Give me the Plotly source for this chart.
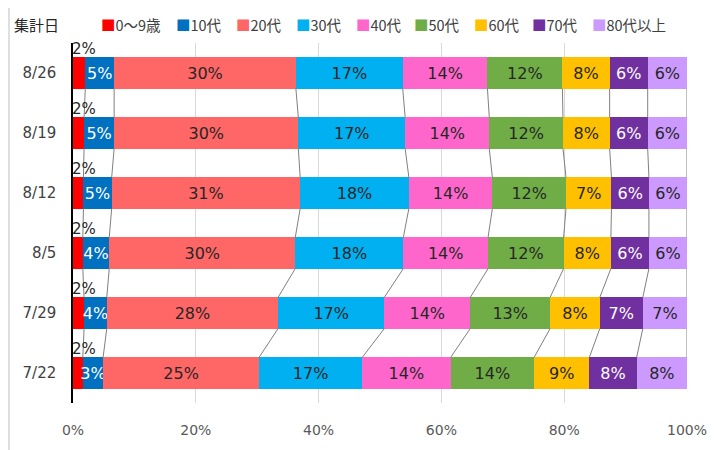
import plotly.graph_objects as go

# ---- data ----
dates = ["7/22", "7/29", "8/5", "8/12", "8/19", "8/26"]
groups = ["0～9歳", "10代", "20代", "30代", "40代", "50代", "60代", "70代", "80代以上"]
age_0_9 = [1.6, 1.8, 1.6, 1.7, 1.8, 2.0]
age_10s = [3.3, 3.7, 4.3, 4.6, 4.9, 4.7]
age_20s = [25.4, 27.9, 30.3, 30.7, 30.0, 29.6]
age_30s = [16.8, 17.3, 17.6, 17.7, 17.4, 17.4]
age_40s = [14.4, 14.0, 13.8, 13.6, 13.7, 13.8]
age_50s = [13.6, 13.0, 12.3, 12.0, 12.0, 12.2]
age_60s = [9.0, 8.1, 7.7, 7.4, 7.6, 7.7]
age_70s = [7.7, 7.0, 6.2, 6.1, 6.2, 6.2]
age_80p = [8.2, 7.2, 6.2, 6.2, 6.4, 6.4]
x_ticks = [0, 20, 40, 60, 80, 100]

series = [age_0_9, age_10s, age_20s, age_30s, age_40s, age_50s, age_60s, age_70s, age_80p]
colors = ["#FF0000", "#0070C0", "#FF6666", "#00B0F0", "#FF66CC",
          "#70AD47", "#FFC000", "#7030A0", "#CC99FF"]
text_colors = ["#262626", "white", "#262626", "#262626", "#262626",
               "#262626", "#262626", "white", "#262626"]

FONT = "DejaVu Sans, Noto Sans CJK JP"
BW = 0.52
ypos = list(range(len(dates)))

# page body has an 8px margin: plot area spans x 73..687, y 43..413 in the window
PL, PT = 73, 43
PW, PH = 614, 370


def px_x(x):
    return (x - PL) / PW


def px_y(y):
    return (PT + PH - y) / PH


fig = go.Figure()

# series lines (connectors between bars)
cum = [0.0] * len(dates)
lx, ly = [], []
for vals in series:
    cum = [c + v for c, v in zip(cum, vals)]
    for i in range(len(dates) - 1):
        lx += [cum[i + 1], cum[i], None]
        ly += [i + 1 - BW / 2, i + BW / 2, None]
fig.add_trace(go.Scatter(x=lx, y=ly, mode="lines",
                         line=dict(color="#808080", width=1),
                         hoverinfo="skip", showlegend=False))

for k, (name, vals) in enumerate(zip(groups, series)):
    txt = ["" if k == 0 else f"{round(v)}%" for v in vals]
    fig.add_trace(go.Bar(
        y=ypos, x=vals, name=name, orientation="h", width=BW,
        marker=dict(color=colors[k], line=dict(width=0)),
        text=txt, textposition="inside", insidetextanchor="middle",
        textangle=0, constraintext="none",
        textfont=dict(family=FONT, size=16, color=text_colors[k]),
        showlegend=False,
    ))

annotations = []
# labels for the smallest segment, placed above the bar
for i, v in enumerate(age_0_9):
    annotations.append(dict(x=0, y=i + BW / 2, xref="x", yref="y",
                            text=f"{round(v)}%", showarrow=False,
                            xanchor="left", yanchor="bottom", yshift=-3, xshift=-3,
                            font=dict(family=FONT, size=15, color="#262626")))

# legend drawn as text
legend_x = [99, 174, 234, 294, 354, 412, 472, 530, 590]
for g, c, lxp in zip(groups, colors, legend_x):
    annotations.append(dict(x=px_x(lxp), y=px_y(24), xref="paper", yref="paper",
                            text=f"<span style='color:{c}'>■</span>{g}",
                            showarrow=False, xanchor="left", yanchor="middle",
                            font=dict(family="Noto Sans CJK JP", size=14.5, color="#404040")))
annotations.append(dict(x=px_x(12), y=px_y(24), xref="paper", yref="paper",
                        text="集計日", showarrow=False, xanchor="left", yanchor="middle",
                        font=dict(family="Noto Sans CJK JP", size=15, color="#262626")))

fig.update_layout(
    barmode="stack",
    width=716, height=442,
    margin=dict(l=PL - 8, r=716 + 8 - (PL + PW), t=PT - 8, b=442 + 8 - (PT + PH)),
    paper_bgcolor="white", plot_bgcolor="white",
    font=dict(family=FONT),
    annotations=annotations,
    shapes=[dict(type="line", xref="paper", yref="paper",
                 x0=px_x(9), x1=px_x(9), y0=-0.2, y1=1.2,
                 line=dict(color="#BFBFBF", width=1))],
)
fig.update_xaxes(range=[0, 100], tickvals=x_ticks, ticktext=[f"{t}%" for t in x_ticks],
                 showgrid=True, gridcolor="#D9D9D9", gridwidth=1, zeroline=False,
                 showline=False, ticks="", ticklabelstandoff=17,
                 tickfont=dict(family=FONT, size=14, color="#595959"))
fig.update_yaxes(range=[-0.5, len(dates) - 0.5], tickvals=ypos, ticktext=dates,
                 showgrid=False, zeroline=False, showline=True, linecolor="#000000",
                 linewidth=1.5, ticks="", ticklabelstandoff=12,
                 tickfont=dict(family=FONT, size=15, color="#404040"))

fig.write_html("out.html")
